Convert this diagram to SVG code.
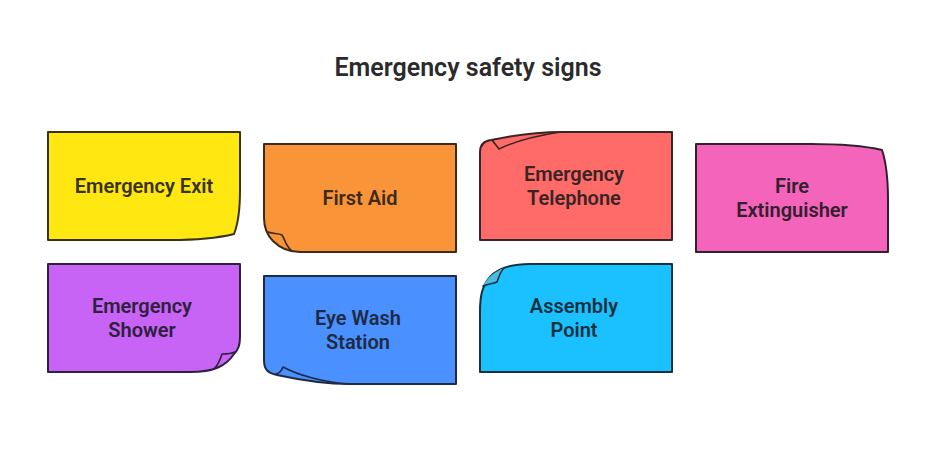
<svg xmlns="http://www.w3.org/2000/svg" width="936" height="456" viewBox="0 0 936 456">
<style>
.s{stroke-width:2;stroke-linejoin:round;stroke-linecap:round}
.f{fill:none;stroke-width:1.6;stroke-linejoin:round;stroke-linecap:round}
text{font-family:Roboto,"Liberation Sans",sans-serif;font-weight:600;font-size:20px;text-anchor:middle}
#title{font-size:25px;fill:#2b2b2b}
</style>
<rect width="936" height="456" fill="#fff"/>
<text id="title" x="468" y="76">Emergency safety signs</text>
<g id="emergency-exit">
<path class="s" fill="#FFE711" stroke="#3a3312" d="M48 132H240V190C240 208 238 224 234 234C218 238 196 240 170 240H48Z"/>
<text x="144" y="193" fill="#3a3312">Emergency Exit</text>
</g>
<g id="first-aid">
<path class="s" fill="#F99538" stroke="#3d2a1a" d="M264 144H456V252H300C288 252 280 248 273 241C268 236 264 230 264 218Z"/>
<path class="f" stroke="#3d2a1a" d="M268 232C273 234 278 233 282 235C285 239 285 245 291 250"/>
<text x="360" y="205" fill="#3d2a1a">First Aid</text>
</g>
<g id="emergency-telephone">
<path class="s" fill="#FF6B68" stroke="#3a2426" d="M480 240V152C480 144 484 141 491 140C510 136 535 132 562 132H672V240Z"/>
<path class="f" stroke="#3a2426" d="M492 140C494 143 497 146 499 149C515 141 535 136 560 132"/>
<text x="574" y="181" fill="#3a2426">Emergency</text>
<text x="574" y="205" fill="#3a2426">Telephone</text>
</g>
<g id="fire-extinguisher">
<path class="s" fill="#F364BA" stroke="#33202f" d="M696 144H810C840 144 865 146 882 150C886 162 888 180 888 200V252H696Z"/>
<text x="792" y="193" fill="#33202f">Fire</text>
<text x="792" y="217" fill="#33202f">Extinguisher</text>
</g>
<g id="emergency-shower">
<path class="s" fill="#C764F5" stroke="#2f2040" d="M48 264H240V336C240 346 238 350 234 354C226 366 214 372 190 372H48Z"/>
<path class="f" stroke="#2f2040" d="M235 352C231 354 227 354 222 354C220 360 219 364 214 369"/>
<text x="142" y="313" fill="#2f2040">Emergency</text>
<text x="142" y="337" fill="#2f2040">Shower</text>
</g>
<g id="eye-wash-station">
<path class="s" fill="#4A90FF" stroke="#1f2b44" d="M264 276H456V384H350C325 384 300 380 277 375C268 373 264 370 264 360Z"/>
<path class="f" stroke="#1f2b44" d="M276 374C280 373 282 370 283 367C300 376 320 381 346 384"/>
<text x="358" y="325" fill="#1f2b44">Eye Wash</text>
<text x="358" y="349" fill="#1f2b44">Station</text>
</g>
<g id="assembly-point">
<path class="s" fill="#1BC1FF" stroke="#14313f" d="M480 372V312C480 296 482 286 490 277C498 268 510 264 530 264H672V372Z"/>
<path fill="#4DBBE0" d="M483 286C488 284 492 284 497 282C499 277 500 272 504 268C494 272 487 278 483 286Z"/>
<path class="f" stroke="#14313f" d="M483 286C488 284 492 284 497 282C499 277 500 272 504 268"/>
<text x="574" y="313" fill="#14313f">Assembly</text>
<text x="574" y="337" fill="#14313f">Point</text>
</g>
</svg>
